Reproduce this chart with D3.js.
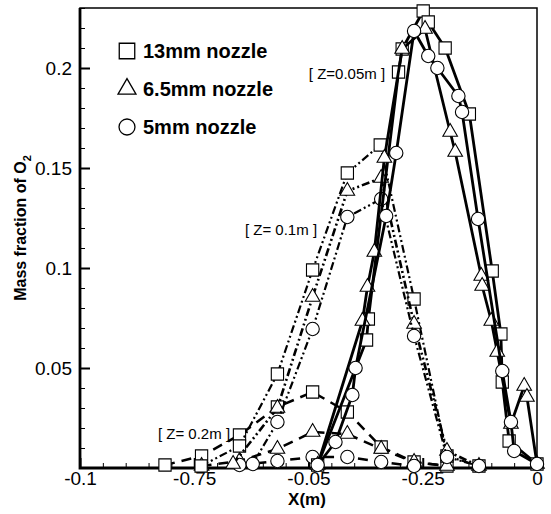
<!DOCTYPE html>
<html>
<head>
<meta charset="utf-8">
<script src="https://cdn.jsdelivr.net/npm/d3@7"></script>
<style>
body { margin: 0; background: #fff; }
text { font-family: "Liberation Sans", Arial, Helvetica, sans-serif; fill: #000; }
</style>
</head>
<body>
<svg id="chart" width="551" height="514"></svg>
<script>
// axis ticks (labels kept as printed on the figure)
const xTicks = [-0.1, -0.075, -0.05, -0.025, 0];
const xTickLabels = ["-0.1", "-0.75", "-0.05", "-0.25", "0"];
const yTicks = [0.05, 0.1, 0.15, 0.2];
const yTickLabels = ["0.05", "0.1", "0.15", "0.2"];

const legendNames = ["13mm nozzle", "6.5mm nozzle", "5mm nozzle"];
const zLabels = ["[ Z=0.05m ]", "[ Z= 0.1m ]", "[ Z= 0.2m ]"];

// Z = 0.05 m (solid)
const sq05 = [[-0.0480,0.0015],[-0.0373,0.064],[-0.0369,0.0745],[-0.0303,0.198],[-0.0295,0.2095],
  [-0.0249,0.2285],[-0.0238,0.223],[-0.0201,0.21],[-0.0148,0.177],[-0.0098,0.0985],
  [-0.0079,0.067],[-0.0076,0.043],[-0.0061,0.0135],[0,0.002]];
const tri05 = [[-0.0480,0.0015],[-0.0382,0.0735],[-0.0371,0.0905],[-0.0356,0.108],[-0.0334,0.155],
  [-0.0295,0.2095],[-0.0245,0.2195],[-0.0190,0.168],[-0.0179,0.158],[-0.0122,0.096],
  [-0.0120,0.091],[-0.0100,0.0735],[-0.0087,0.058],[-0.0057,0.022],[-0.0028,0.041],
  [-0.0022,0.0355],[0,0.002]];
const cir05 = [[-0.0480,0.0015],[-0.0441,0.013],[-0.0404,0.0365],[-0.0397,0.05],[-0.0330,0.126],
  [-0.0308,0.1575],[-0.0269,0.2185],[-0.0238,0.206],[-0.0218,0.2],[-0.0172,0.186],
  [-0.0164,0.178],[-0.0129,0.1245],[-0.0076,0.0485],[-0.0057,0.023],[-0.0050,0.0085],[0,0.002]];

// Z = 0.1 m (dash-dot-dot)
const sq10 = [[-0.0735,0.001],[-0.0651,0.011],[-0.0568,0.047],[-0.0491,0.099],[-0.0415,0.1475],
  [-0.0343,0.1615],[-0.0269,0.0845],[-0.0197,0.006],[-0.0127,0.001]];
const tri10 = [[-0.0665,0.002],[-0.0568,0.03],[-0.0491,0.0855],[-0.0415,0.1385],[-0.0341,0.145],
  [-0.0269,0.072],[-0.0197,0.0085],[-0.0127,0.001]];
const cir10 = [[-0.0622,0.002],[-0.0568,0.023],[-0.0491,0.0695],[-0.0415,0.1255],[-0.0341,0.1345],
  [-0.0269,0.066],[-0.0197,0.0055],[-0.0127,0.001]];

// Z = 0.2 m (long dash)
const sq20 = [[-0.0814,0.0015],[-0.0734,0.006],[-0.0651,0.0165],[-0.0568,0.0305],[-0.0491,0.038],
  [-0.0415,0.028],[-0.0341,0.0105],[-0.0269,0.003],[-0.0197,0.001]];
const tri20 = [[-0.0734,0.001],[-0.0651,0.0035],[-0.0568,0.0095],[-0.0491,0.018],[-0.0415,0.017],
  [-0.0341,0.0095],[-0.0269,0.003],[-0.0197,0.001]];
const cir20 = [[-0.0651,0.0015],[-0.0568,0.0035],[-0.0491,0.0055],[-0.0415,0.0055],
  [-0.0341,0.003],[-0.0269,0.001]];

const series = [
  {data: sq20, sym: "square", dash: "10,7", w: 2.5},
  {data: tri20, sym: "triangle", dash: "10,7", w: 2.5},
  {data: cir20, sym: "circle", dash: "10,7", w: 2.5},
  {data: sq10, sym: "square", dash: "8,3,2,3,2,3", w: 2.2},
  {data: tri10, sym: "triangle", dash: "8,3,2,3,2,3", w: 2.6},
  {data: cir10, sym: "circle", dash: "8,3,2,3,2,3", w: 2.2},
  {data: sq05, sym: "square", dash: null, w: 2.8},
  {data: tri05, sym: "triangle", dash: null, w: 2.8},
  {data: cir05, sym: "circle", dash: null, w: 2.8}
];

const svg = d3.select("#chart");
const mLeft = 80, mRight = 537, mTop = 8, mBottom = 468;

const x = d3.scaleLinear().domain([-0.1, 0]).range([mLeft, mRight]);
const y = d3.scaleLinear().domain([0, 0.23]).range([mBottom, mTop]);

const symbols = {square: d3.symbolSquare, triangle: d3.symbolTriangle, circle: d3.symbolCircle};
const symSize = {square: 150, triangle: 92, circle: 140};

// minor ticks
const xMinor = d3.range(-0.1, 0.0001, 0.005);
const yMinor = d3.range(0, 0.2301, 0.01);

svg.append("g").attr("transform", `translate(0,${mBottom})`)
  .call(d3.axisBottom(x).tickValues(xMinor).tickSize(-5).tickFormat(""))
  .call(g => g.select(".domain").remove());
svg.append("g").attr("transform", `translate(${mLeft},0)`)
  .call(d3.axisLeft(y).tickValues(yMinor).tickSize(-5).tickFormat(""))
  .call(g => g.select(".domain").remove());

// major ticks + labels
const xAxis = svg.append("g").attr("transform", `translate(0,${mBottom})`)
  .call(d3.axisBottom(x).tickValues(xTicks).tickSize(-10).tickPadding(4)
    .tickFormat((d, i) => xTickLabels[i]));
xAxis.select(".domain").remove();
xAxis.selectAll("line").attr("stroke-width", 2);
xAxis.selectAll("text").style("font-size", "19px");

const yAxis = svg.append("g").attr("transform", `translate(${mLeft},0)`)
  .call(d3.axisLeft(y).tickValues(yTicks).tickSize(-10).tickPadding(8)
    .tickFormat((d, i) => yTickLabels[i]));
yAxis.select(".domain").remove();
yAxis.selectAll("line").attr("stroke-width", 2);
yAxis.selectAll("text").style("font-size", "19px");

// frame
svg.append("rect").attr("x", mLeft).attr("y", mTop).attr("width", mRight - mLeft).attr("height", mBottom - mTop)
  .attr("fill", "none").attr("stroke", "#000").attr("stroke-width", 1.5);
svg.append("path").attr("d", `M${mLeft},${mTop}V${mBottom}H${mRight}`)
  .attr("fill", "none").attr("stroke", "#000").attr("stroke-width", 2.8);

// data
const line = d3.line().x(d => x(d[0])).y(d => y(d[1]));
const plot = svg.append("g");
series.forEach(s => {
  plot.append("path").datum(s.data)
    .attr("d", line)
    .attr("fill", "none").attr("stroke", "#000")
    .attr("stroke-width", s.w)
    .attr("stroke-dasharray", s.dash)
    .attr("stroke-linejoin", "round");
  plot.append("g").selectAll("path").data(s.data).join("path")
    .attr("d", d3.symbol().type(symbols[s.sym]).size(symSize[s.sym]))
    .attr("transform", d => `translate(${x(d[0])},${y(d[1])})`)
    .attr("fill", "#fff").attr("stroke", "#000").attr("stroke-width", 1.1);
});

// legend
const legend = svg.append("g").attr("transform", "translate(127,51)");
const legSym = ["square", "triangle", "circle"];
const legSize = {square: 240, triangle: 140, circle: 200};
legendNames.forEach((name, i) => {
  const g = legend.append("g").attr("transform", `translate(0,${i * 38})`);
  g.append("path")
    .attr("d", d3.symbol().type(symbols[legSym[i]]).size(legSize[legSym[i]]))
    .attr("fill", "#fff").attr("stroke", "#000").attr("stroke-width", 1.3);
  g.append("text").attr("x", 16).attr("dy", "0.36em")
    .style("font-size", "20px").style("font-weight", "bold").text(name);
});

// Z annotations
const zPos = [[347, 79], [281, 235], [194, 439]];
zLabels.forEach((t, i) => {
  svg.append("text").attr("x", zPos[i][0]).attr("y", zPos[i][1])
    .attr("text-anchor", "middle").style("font-size", "15px").text(t);
});

// axis titles
svg.append("text").attr("x", 307).attr("y", 505).attr("text-anchor", "middle")
  .style("font-size", "17px").style("font-weight", "bold").text("X(m)");

const yt = svg.append("text").attr("transform", "translate(26,228) rotate(-90)")
  .attr("text-anchor", "middle").style("font-size", "16px").style("font-weight", "bold");
yt.append("tspan").text("Mass fraction of O");
yt.append("tspan").attr("dy", 5).style("font-size", "11px").text("2");
</script>
</body>
</html>
